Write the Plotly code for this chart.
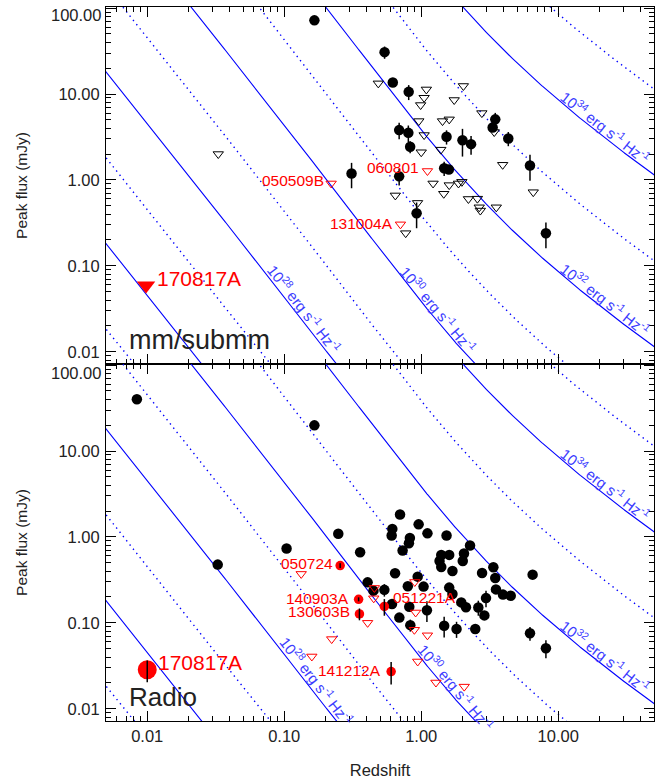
import numpy as np
import plotly.graph_objects as go

# ---------------- data: mm/submm panel ----------------
mm_det_z = [0.166, 0.54, 0.62, 0.81, 0.69, 0.805, 0.83, 1.53, 0.31, 0.69,
            0.925, 1.47, 1.59, 3.47, 3.32, 2.00, 2.31, 4.32, 6.22, 8.13]
mm_det_f = [72, 30.7, 13.6, 10.6, 3.80, 3.53, 2.43, 3.18, 1.19, 1.10,
            0.41, 1.37, 1.32, 5.07, 4.08, 2.90, 2.61, 3.04, 1.47, 0.24]
mm_det_err = [0, 5.0, 0, 2.1, 0.82, 0.77, 0.39, 0.60, 0.39, 0.24,
              0.136, 0.26, 0, 0.96, 0, 1.03, 0.64, 0.57, 0.49, 0.08]

mm_lim_z = [0.033, 0.486, 1.09, 1.05, 0.99, 0.96, 1.43, 1.60, 1.74, 2.03,
            2.77, 1.05, 1.00, 1.39, 3.41, 3.93, 1.22, 1.60, 1.87, 1.98,
            1.46, 0.647, 0.94, 0.77, 6.57, 2.21, 2.57, 2.65, 2.70, 3.53]
mm_lim_f = [2.00, 13.3, 11.3, 9.05, 7.44, 4.84, 4.84, 5.07, 8.51, 12.4,
            6.00, 3.33, 2.10, 2.25, 3.61, 1.50, 0.91, 0.87, 0.91, 0.95,
            0.69, 0.66, 0.54, 0.24, 0.72, 0.60, 0.605, 0.48, 0.44, 0.48]

mm_red_names = ["050509B", "060801", "131004A"]
mm_red_z = [0.22, 1.11, 0.705]
mm_red_f = [0.91, 1.27, 0.304]

gw_name = "170817A"
mm_gw_z = [0.0098]
mm_gw_f = [0.059]

# ---------------- data: radio panel ----------------
radio_det_z = [0.0084, 0.166, 0.0327, 0.104, 0.248, 0.358, 0.406, 0.448, 0.538, 0.612,
               0.692, 0.832, 0.818, 1.10, 0.644, 0.731, 0.700, 0.615, 0.608, 0.957,
               1.11, 0.826, 0.813, 1.53, 2.27, 1.40, 1.60, 1.36, 1.40, 1.69,
               2.05, 2.01, 3.36, 2.78, 3.47, 6.50, 0.942, 0.798, 1.04, 1.60,
               1.69, 1.96, 2.12, 2.61, 2.97, 2.89, 3.51, 3.95, 4.50, 1.47,
               1.81, 2.48, 6.22, 8.13]
radio_det_f = [40.1, 19.9, 0.476, 0.733, 1.09, 0.663, 0.296, 0.237, 0.242, 0.166,
               0.115, 0.094, 0.154, 0.140, 0.377, 0.694, 1.82, 1.24, 1.04, 1.40,
               1.10, 0.971, 0.844, 1.04, 0.794, 0.615, 0.618, 0.524, 0.446, 0.402,
               0.640, 0.524, 0.443, 0.380, 0.333, 0.364, 0.345, 0.267, 0.264, 0.257,
               0.217, 0.173, 0.152, 0.151, 0.194, 0.122, 0.245, 0.213, 0.207, 0.0925,
               0.0848, 0.0848, 0.0757, 0.0506]
radio_det_err = [0, 0, 0.05, 0, 0, 0, 0, 0, 0.04, 0,
                 0, 0.015, 0, 0.038, 0, 0, 0, 0, 0, 0,
                 0, 0, 0, 0, 0, 0, 0, 0, 0, 0,
                 0, 0, 0, 0, 0, 0, 0, 0, 0, 0,
                 0, 0, 0, 0.03, 0.042, 0, 0, 0, 0, 0.025,
                 0.018, 0, 0.014, 0.012]

radio_red_names = ["050724", "140903A", "130603B", "051221A", "141212A"]
radio_red_z = [0.256, 0.349, 0.354, 0.538, 0.603]
radio_red_f = [0.464, 0.188, 0.127, 0.155, 0.0271]
radio_red_err = [0.03, 0.01, 0.02, 0.034, 0.008]

radio_gw_z = [0.0100]
radio_gw_f = [0.0284]
radio_gw_err = [0.008]

radio_redlim_z = [0.133, 0.455, 0.45, 0.406, 0.222, 0.159, 0.897, 0.910, 0.891, 1.11,
                  0.942, 1.28, 2.06]
radio_redlim_f = [0.371, 0.255, 0.193, 0.100, 0.0647, 0.0406, 0.299, 0.132, 0.083, 0.0716,
                  0.0355, 0.0202, 0.0181]

# luminosity tracks (erg s^-1 Hz^-1)
lum_exponents = [25, 26, 27, 28, 29, 30, 31, 32, 33, 34, 35]
labelled_exponents = [28, 30, 32, 34]
label_z_mm = [0.125, 1.2, 20, 20]
label_z_radio = [0.153, 1.6, 20, 20]
label_angle = [52, 50, 38, 38]

x_ticks = [0.01, 0.1, 1, 10]
x_ticktext = ["0.01", "0.10", "1.00", "10.00"]
y_ticks = [0.01, 0.1, 1, 10, 100]
y_ticktext = ["0.01", "0.10", "1.00", "10.00", ""]   # "100.00" placed as shifted text below
y_top_label = "100.00"

# ---------------- cosmology for constant-luminosity lines ----------------
H0, Om = 70.0, 0.3
c_kms = 299792.458
MPC_CM = 3.0857e24
zz = np.logspace(np.log10(0.004), np.log10(60), 800)
zf = np.concatenate([[0.0], zz])
inv_E = 1.0 / np.sqrt(Om * (1 + zf) ** 3 + (1 - Om))
cum = np.concatenate([[0.0], np.cumsum(0.5 * (inv_E[1:] + inv_E[:-1]) * np.diff(zf))])[1:]
dL_cm = (1 + zz) * (c_kms / H0) * cum * MPC_CM


def flux_mjy(L, z=None):
    f = L * (1 + zz) / (4 * np.pi * dL_cm ** 2) / 1e-26
    if z is None:
        return f
    return 10 ** np.interp(np.log10(z), np.log10(zz), np.log10(f))


FONT = "Liberation Sans, Arial, Helvetica, sans-serif"
BLUE = "#0000ff"
BLUE_TXT = "#3c3cff"
RED = "#ff0000"
TXT = "#222222"

fig = go.Figure()

panels = [("x", "y"), ("x2", "y2")]

# luminosity lines in both panels
for xa, ya in panels:
    for e in lum_exponents:
        solid = (e % 2 == 0)
        fig.add_trace(go.Scatter(
            x=zz, y=flux_mjy(10.0 ** e), mode="lines", xaxis=xa, yaxis=ya,
            line=dict(color=BLUE, width=1.1 if solid else 1.4,
                      dash="solid" if solid else "1.4px,4px"),
            hoverinfo="skip", showlegend=False))


def add_points(xa, ya, det_z, det_f, det_err, lim_z, lim_f):
    fig.add_trace(go.Scatter(
        x=lim_z, y=lim_f, mode="markers", xaxis=xa, yaxis=ya,
        marker=dict(symbol="triangle-down-open", size=9, color="black", line=dict(width=1, color="black")),
        showlegend=False))
    fig.add_trace(go.Scatter(
        x=det_z, y=det_f, mode="markers", xaxis=xa, yaxis=ya,
        marker=dict(symbol="circle", size=10.5, color="black"),
        error_y=dict(type="data", array=det_err, visible=True, color="black", thickness=1.5, width=0),
        showlegend=False))


add_points("x", "y", mm_det_z, mm_det_f, mm_det_err, mm_lim_z, mm_lim_f)
add_points("x2", "y2", radio_det_z, radio_det_f, radio_det_err, [], [])

# red markers, top panel
fig.add_trace(go.Scatter(
    x=mm_red_z, y=mm_red_f, mode="markers", xaxis="x", yaxis="y",
    marker=dict(symbol="triangle-down-open", size=9, color=RED, line=dict(width=1, color=RED)),
    showlegend=False))
fig.add_trace(go.Scatter(
    x=mm_gw_z, y=mm_gw_f, mode="markers", xaxis="x", yaxis="y",
    marker=dict(symbol="triangle-down", size=16, color=RED),
    showlegend=False))

# red markers, bottom panel
fig.add_trace(go.Scatter(
    x=radio_redlim_z, y=radio_redlim_f, mode="markers", xaxis="x2", yaxis="y2",
    marker=dict(symbol="triangle-down-open", size=9, color=RED, line=dict(width=1, color=RED)),
    showlegend=False))
fig.add_trace(go.Scatter(
    x=radio_red_z, y=radio_red_f, mode="markers", xaxis="x2", yaxis="y2",
    marker=dict(symbol="circle", size=9.5, color=RED), showlegend=False))
fig.add_trace(go.Scatter(
    x=radio_gw_z, y=radio_gw_f, mode="markers", xaxis="x2", yaxis="y2",
    marker=dict(symbol="circle", size=19, color=RED), showlegend=False))
# black error bars drawn over the red circles
fig.add_trace(go.Scatter(
    x=radio_red_z + radio_gw_z, y=radio_red_f + radio_gw_f, mode="markers", xaxis="x2", yaxis="y2",
    marker=dict(size=1, color="rgba(0,0,0,0)"),
    error_y=dict(type="data", array=radio_red_err + radio_gw_err, visible=True,
                 color="black", thickness=1.5, width=0),
    showlegend=False))

annotations = []


# luminosity labels
def lum_label(xa, ya, e, z, ang, d=9):
    th = np.radians(ang)
    annotations.append(dict(
        x=np.log10(z), y=np.log10(flux_mjy(10.0 ** e, z)), xref=xa, yref=ya,
        text=f"10<sup>{e}</sup> erg s<sup>-1</sup> Hz<sup>-1</sup>",
        textangle=ang, showarrow=False, xanchor="center", yanchor="middle",
        xshift=d * np.sin(th), yshift=d * np.cos(th),
        font=dict(family=FONT, size=15, color=BLUE_TXT)))


for e, zl, ang in zip(labelled_exponents, label_z_mm, label_angle):
    lum_label("x", "y", e, zl, ang)
for e, zl, ang in zip(labelled_exponents, label_z_radio, label_angle):
    lum_label("x2", "y2", e, zl, ang)


# burst name labels
def name_label(xa, ya, name, z, f, anchor, xs, ys, size=15.5):
    annotations.append(dict(
        x=np.log10(z), y=np.log10(f), xref=xa, yref=ya, text=name, showarrow=False,
        xanchor=anchor, yanchor="middle", xshift=xs, yshift=ys,
        font=dict(family=FONT, size=size, color=RED)))


mm_offsets = [(-5, 3), (-6, 4), (-5, 1)]
for n, z, f, (xs, ys) in zip(mm_red_names, mm_red_z, mm_red_f, mm_offsets):
    name_label("x", "y", n, z, f, "right", xs, ys)
name_label("x", "y", gw_name, mm_gw_z[0], mm_gw_f[0], "left", 9, 7, size=21)

radio_offsets = [("right", -5, 2), ("right", -8, 1), ("right", -7, 2), ("left", 7, 9), ("right", -8, 1)]
for n, z, f, (anc, xs, ys) in zip(radio_red_names, radio_red_z, radio_red_f, radio_offsets):
    name_label("x2", "y2", n, z, f, anc, xs, ys)
name_label("x2", "y2", gw_name, radio_gw_z[0], radio_gw_f[0], "left", 9, 7, size=21)

# top tick label of each panel, nudged inside the panel like the original
for ya, ys in (("y", -7), ("y2", -8)):
    annotations.append(dict(x=0, xref="paper", xanchor="right", xshift=-3,
                            y=np.log10(100), yref=ya, yanchor="middle", yshift=ys,
                            text=y_top_label, showarrow=False,
                            font=dict(family=FONT, size=16.5, color=TXT)))

# panel names
annotations.append(dict(x=0.038, y=0.534, xref="paper", yref="paper", text="mm/submm",
                        showarrow=False, xanchor="left", yanchor="middle",
                        font=dict(family=FONT, size=27, color=TXT)))
annotations.append(dict(x=0.038, y=0.033, xref="paper", yref="paper", text="Radio",
                        showarrow=False, xanchor="left", yanchor="middle",
                        font=dict(family=FONT, size=26, color=TXT)))

x_minor = [m * 10.0 ** k for k in range(-3, 2) for m in range(2, 10)]
y_minor = [m * 10.0 ** k for k in range(-3, 3) for m in range(2, 10)]

common = dict(type="log", showline=True, linecolor="black", linewidth=1, mirror="allticks",
              ticks="inside", ticklen=10, tickwidth=1, tickcolor="black",
              showgrid=False, zeroline=False, automargin=False,
              tickfont=dict(family=FONT, size=16.5, color=TXT))

xr = [np.log10(0.005), np.log10(50)]
yr = [np.log10(0.0072), np.log10(103)]

xaxis_common = dict(common, range=xr, tickmode="array", tickvals=x_ticks, ticktext=x_ticktext,
                    minor=dict(ticks="inside", ticklen=5, tickwidth=1, tickcolor="black",
                               tickmode="array", tickvals=x_minor, showgrid=False))
yaxis_common = dict(common, range=yr, tickmode="array", tickvals=y_ticks, ticktext=y_ticktext,
                    minor=dict(ticks="inside", ticklen=5, tickwidth=1, tickcolor="black",
                               tickmode="array", tickvals=y_minor, showgrid=False),
                    ticklabelstandoff=2,
                    title=dict(text="Peak flux (mJy)", standoff=26,
                               font=dict(family=FONT, size=15.5, color=TXT)))

fig.update_layout(
    width=668, height=783,
    margin=dict(l=106, r=14, t=7, b=62),
    paper_bgcolor="white", plot_bgcolor="white",
    showlegend=False,
    font=dict(family=FONT, color=TXT),
    xaxis=dict(xaxis_common, anchor="y", showticklabels=False, matches="x2"),
    yaxis=dict(yaxis_common, domain=[0.5, 1.0], anchor="x"),
    xaxis2=dict(xaxis_common, anchor="y2", ticklabelstandoff=0,
                title=dict(text="Redshift", standoff=20,
                           font=dict(family=FONT, size=16.5, color=TXT))),
    yaxis2=dict(yaxis_common, domain=[0.0, 0.5], anchor="x2"),
    annotations=annotations,
)

fig.write_html("out.html", config={"displayModeBar": False},
               post_script="document.body.style.margin='0';document.body.style.padding='0';")
